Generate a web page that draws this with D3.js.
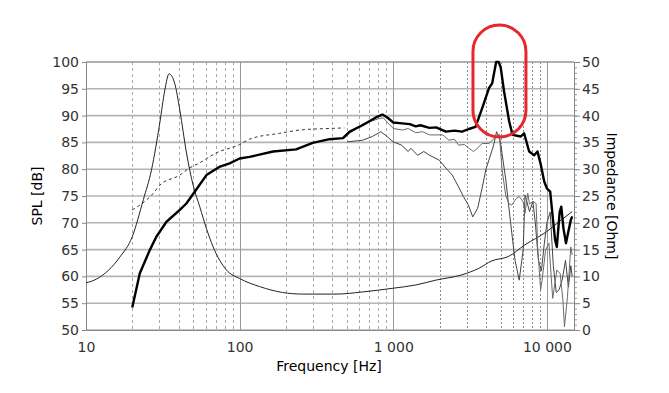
<!DOCTYPE html>
<html>
<head>
<meta charset="utf-8">
<script src="https://cdn.jsdelivr.net/npm/d3@7"></script>
<style>
  body { margin: 0; background: #fff; }
  svg text { font-family: "DejaVu Sans", Verdana, sans-serif; }
</style>
</head>
<body>
<div id="chart"></div>
<script>
// On-axis SPL (thick line)
var onAxisFreq = [20, 22.4, 26, 28.7, 33.4, 40.8, 45, 51, 60.8, 74.5, 86, 100, 116, 165, 233, 299, 385, 470, 520, 630, 775, 850, 920, 1000, 1100, 1280, 1400, 1500, 1720, 1900, 2200, 2500, 2800, 3100, 3430, 3790, 4190, 4400, 4670, 4850, 5000, 5260, 5680, 5970, 6760, 7100, 7660, 8260, 8680, 9130, 9600, 10000, 10500, 11000, 11300, 11600, 12100, 12400, 12800, 13300, 13700, 14300, 14600];
var onAxisDb   = [54.2, 60.6, 64.9, 67.4, 70.2, 72.4, 73.6, 75.8, 78.9, 80.5, 81.1, 82.0, 82.3, 83.3, 83.7, 84.9, 85.6, 85.8, 87.0, 88.2, 89.7, 90.2, 89.6, 88.7, 88.6, 88.4, 88.0, 88.2, 87.7, 87.8, 87.0, 87.2, 87.0, 87.5, 87.9, 91.4, 95.1, 96.0, 100, 100, 99, 94.5, 88.9, 86.4, 86.1, 86.7, 83.3, 82.6, 83.3, 80.8, 77.7, 76.4, 75.8, 70, 66.8, 65.5, 72, 73, 69, 66.2, 68, 70.5, 71.2];

// Low frequency (dashed)
var lowFreq = [20, 27.4, 30.2, 40.8, 47, 55, 70, 100, 116, 182, 245, 385, 480];
var lowDb   = [72.4, 75.5, 77.0, 78.9, 80.2, 81.2, 83, 84.6, 85.6, 86.7, 87.3, 87.6, 87.7];

// Off-axis 1 (gray)
var off1Freq = [480, 520, 630, 800, 860, 930, 1000, 1150, 1250, 1400, 1550, 1720, 2100, 2300, 2500, 2660, 2900, 3100, 3330, 3550, 3790, 4190, 4640, 4900, 5100, 5400, 5650, 5900, 6300, 6600, 7000, 7200, 7500, 7700, 8100, 8500, 8700, 9100, 9300, 9800, 10300, 10900, 11600, 12200, 12700, 13000, 13600, 14300, 14600];
var off1Db   = [85.8, 86.7, 88.4, 89.4, 89.6, 88.5, 87.6, 87.3, 87.6, 86.8, 87.0, 86.4, 86.4, 85.4, 85.6, 84.5, 84.6, 83.9, 83.3, 84.0, 84.8, 84.8, 86, 86.5, 80, 75, 73.6, 73.3, 74.5, 74.9, 73.9, 71.8, 75.5, 73.5, 74, 73.6, 65.5, 57.5, 59.3, 64.9, 66.2, 55.9, 61.2, 60.5, 55.6, 50.6, 56.2, 65.5, 64];

// Off-axis 2 (dark)
var off2Freq = [500, 630, 730, 830, 910, 1000, 1130, 1250, 1300, 1440, 1580, 1720, 1990, 2200, 2420, 2660, 2860, 3080, 3290, 3540, 3800, 4000, 4190, 4500, 4700, 4960, 5400, 5800, 6200, 6600, 7000, 7200, 7700, 8100, 8400, 8800, 9200, 9600, 10000, 10500, 11000, 11500, 12000, 12600, 13200, 13800, 14300, 14600];
var off2Db   = [85.1, 85.4, 86.1, 87.0, 86.1, 85.1, 84.5, 83.3, 83.9, 82.6, 83.3, 82.6, 81.7, 80.2, 78.9, 76.7, 74.9, 73.3, 71.1, 72.7, 76.7, 79.9, 81.7, 84.5, 87.0, 85.4, 78.0, 70, 63, 59.3, 64.9, 75.2, 72.1, 74, 70, 63, 61, 66, 70, 72, 62, 57, 57.5, 59.5, 63, 58, 62, 60];

// Impedance (right axis, Ohm)
var impFreq = [10, 11.7, 16.6, 20, 23.6, 26.7, 30.2, 32.6, 34.7, 37.8, 40.8, 45.1, 49.8, 55, 61, 67, 82, 100, 135, 190, 257, 424, 630, 1000, 1400, 1890, 2800, 3600, 4380, 5600, 7200, 9900, 12000, 14600];
var impOhm  = [8.8, 9.5, 13.6, 17.4, 24.3, 29.9, 38.6, 44.8, 47.8, 46, 41, 33, 27, 23, 18.8, 15.6, 11.2, 9.6, 8.1, 7.0, 6.7, 6.7, 7.1, 7.8, 8.4, 9.3, 10.3, 11.5, 12.9, 13.7, 15.9, 18.3, 20.2, 22.1];

var xMajor = [10, 100, 1000, 10000];
var xMajorLabels = ['10', '100', '1 000', '10 000'];
var splTicks = d3.range(50, 101, 5);
var impTicks = d3.range(0, 51, 5);

// plot box
var margin = {left: 86, right: 574, top: 62, bottom: 330};
var width = 669, height = 393;

var svg = d3.select('#chart').append('svg')
    .attr('width', width)
    .attr('height', height);

var x = d3.scaleLog().domain([10, 15000]).range([margin.left, margin.right]);
var y = d3.scaleLinear().domain([50, 100]).range([margin.bottom, margin.top]);
var y2 = d3.scaleLinear().domain([0, 50]).range([margin.bottom, margin.top]);

// minor vertical grid
var minor = [];
[10, 100, 1000].forEach(function(d) {
  for (var k = 2; k <= 9; k++) { if (d * k < 15000) minor.push(d * k); }
});
svg.append('g').selectAll('line').data(minor).enter().append('line')
    .attr('x1', function(d) { return Math.round(x(d)) + 0.5; })
    .attr('x2', function(d) { return Math.round(x(d)) + 0.5; })
    .attr('y1', margin.top).attr('y2', margin.bottom)
    .attr('stroke', function(d) { return d >= 2000 ? '#8a8a8a' : '#a8a8a8'; })
    .attr('stroke-dasharray', function(d) { return d >= 2000 ? '2,2' : '3,3'; })
    .attr('stroke-width', 1);

// horizontal grid
svg.append('g').selectAll('line').data(splTicks).enter().append('line')
    .attr('x1', margin.left).attr('x2', margin.right)
    .attr('y1', function(d) { return y(d); })
    .attr('y2', function(d) { return y(d); })
    .attr('stroke', '#b4b4b4')
    .attr('stroke-width', 1.6);

// major vertical grid
svg.append('g').selectAll('line').data(xMajor.slice(1)).enter().append('line')
    .attr('x1', function(d) { return Math.round(x(d)) + 0.5; })
    .attr('x2', function(d) { return Math.round(x(d)) + 0.5; })
    .attr('y1', margin.top).attr('y2', margin.bottom)
    .attr('stroke', '#999')
    .attr('stroke-width', 1);

// left axis
var leftAxis = svg.append('g')
    .attr('transform', 'translate(' + margin.left + ',0)')
    .call(d3.axisLeft(y).tickValues(splTicks).tickSize(4).tickPadding(3));
leftAxis.select('.domain').attr('stroke', '#888');
leftAxis.selectAll('.tick line').attr('stroke', '#888');
leftAxis.selectAll('text').attr('font-size', 14).attr('fill', '#333');

// right axis, minor ticks first
svg.append('g')
    .attr('transform', 'translate(' + margin.right + ',0)')
    .call(d3.axisRight(y2).tickValues(d3.range(0, 51, 1)).tickSize(3).tickFormat(''))
    .call(function(g) { g.select('.domain').remove(); g.selectAll('line').attr('stroke', '#999'); });
var rightAxis = svg.append('g')
    .attr('transform', 'translate(' + margin.right + ',0)')
    .call(d3.axisRight(y2).tickValues(impTicks).tickSize(6).tickPadding(2));
rightAxis.select('.domain').attr('stroke', '#888');
rightAxis.selectAll('.tick line').attr('stroke', '#888');
rightAxis.selectAll('text').attr('font-size', 14).attr('fill', '#333');

// bottom axis
var bottomAxis = svg.append('g')
    .attr('transform', 'translate(0,' + margin.bottom + ')')
    .call(d3.axisBottom(x).tickValues(xMajor).tickSize(0).tickPadding(12)
      .tickFormat(function(d, i) { return xMajorLabels[i]; }));
bottomAxis.select('.domain').attr('stroke', '#888');
bottomAxis.selectAll('text').attr('font-size', 14).attr('fill', '#333');

// top frame
svg.append('line')
    .attr('x1', margin.left).attr('x2', margin.right)
    .attr('y1', margin.top).attr('y2', margin.top)
    .attr('stroke', '#999');

function pairs(fs, vs) {
  return fs.map(function(f, i) { return [f, vs[i]]; });
}

var lineSpl = d3.line()
    .x(function(d) { return x(d[0]); })
    .y(function(d) { return y(d[1]); });

var lineSmooth = d3.line()
    .curve(d3.curveMonotoneX)
    .x(function(d) { return x(d[0]); })
    .y(function(d) { return y(d[1]); });

var lineImp = d3.line()
    .curve(d3.curveMonotoneX)
    .x(function(d) { return x(d[0]); })
    .y(function(d) { return y2(d[1]); });

svg.append('path')
    .datum(pairs(impFreq, impOhm))
    .attr('fill', 'none')
    .attr('stroke', '#222')
    .attr('stroke-width', 1)
    .attr('d', lineImp);

svg.append('path')
    .datum(pairs(lowFreq, lowDb))
    .attr('fill', 'none')
    .attr('stroke', '#333')
    .attr('stroke-width', 1)
    .attr('stroke-dasharray', '3,3')
    .attr('d', lineSmooth);

svg.append('path')
    .datum(pairs(off2Freq, off2Db))
    .attr('fill', 'none')
    .attr('stroke', '#444')
    .attr('stroke-width', 1)
    .attr('d', lineSpl);

svg.append('path')
    .datum(pairs(off1Freq, off1Db))
    .attr('fill', 'none')
    .attr('stroke', '#6a6a6a')
    .attr('stroke-width', 1)
    .attr('d', lineSpl);

svg.append('path')
    .datum(pairs(onAxisFreq, onAxisDb))
    .attr('fill', 'none')
    .attr('stroke', '#000')
    .attr('stroke-width', 2.4)
    .attr('stroke-linejoin', 'round')
    .attr('d', lineSpl);

// axis titles
svg.append('text')
    .attr('transform', 'rotate(-90)')
    .attr('x', -(margin.top + margin.bottom) / 2)
    .attr('y', 42)
    .style('text-anchor', 'middle')
    .attr('font-size', 14)
    .text('SPL [dB]');

svg.append('text')
    .attr('transform', 'rotate(90)')
    .attr('x', (margin.top + margin.bottom) / 2)
    .attr('y', -607)
    .style('text-anchor', 'middle')
    .attr('font-size', 14)
    .text('Impedance [Ohm]');

svg.append('text')
    .attr('x', 329)
    .attr('y', 371)
    .style('text-anchor', 'middle')
    .attr('font-size', 14)
    .text('Frequency [Hz]');

// red highlight around the peak
svg.append('rect')
    .attr('x', x(3300))
    .attr('y', 25)
    .attr('width', x(7300) - x(3300))
    .attr('height', 112)
    .attr('rx', (x(7300) - x(3300)) / 2)
    .attr('fill', 'none')
    .attr('stroke', '#e8262d')
    .attr('stroke-width', 3);
</script>
</body>
</html>
